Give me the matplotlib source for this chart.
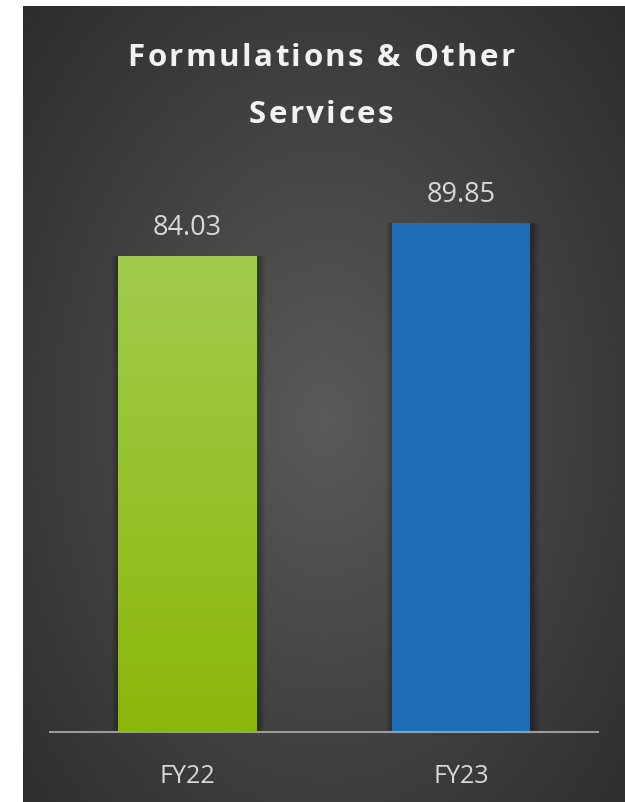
import numpy as np
import matplotlib
matplotlib.use('Agg')
import matplotlib.pyplot as plt
from matplotlib.patches import FancyBboxPatch

plt.rcParams['font.family'] = ['Open Sans', 'DejaVu Sans']

categories = ['FY22', 'FY23']
values = [84.03, 89.85]
value_labels = ['84.03', '89.85']

W, H = 625, 803
fig = plt.figure(figsize=(W / 100, H / 100), dpi=100, facecolor='white')

# dark panel with a soft radial glow in the middle
pw, ph = W - 23, H - 7
bg = fig.add_axes([23 / W, 0, pw / W, ph / H])
bg.axis('off')
ny, nx = 400, 300
yy, xx = np.mgrid[0:ny, 0:nx]
r = np.sqrt(((xx - 0.5 * nx) / (0.79 * nx)) ** 2 + ((yy - 0.52 * ny) / (0.86 * ny)) ** 2)
r = np.clip(r, 0, 1)
shade = 0.158 + 0.195 * (1 - r) ** 1.1
img = np.dstack([shade, shade, shade])
bg.imshow(img, aspect='auto', extent=(0, 1, 0, 1), interpolation='bilinear')
bg.set_xlim(0, 1)
bg.set_ylim(0, 1)

# plotting area: baseline at y=733px, 5.665 px per unit
ax = fig.add_axes([50 / W, 1 - 733 / H, 548 / W, 583 / H])
ax.patch.set_alpha(0)
ymax = 84.03 * 583 / 476
x = np.arange(len(categories))
bw = 0.505
bars = ax.bar(x, values, width=bw, color=['#94bf1c', '#1f6db5'], zorder=3)

# soft outer shadow around each bar
ppx = 2.0 / 548  # data units per pixel in x
ppy = ymax / 583
for b in bars:
    for k in range(1, 8):
        ax.add_patch(FancyBboxPatch((b.get_x() - k * ppx + 1.5 * ppx, -k * ppy),
                                    b.get_width() + 2 * k * ppx, b.get_height() + k * ppy,
                                    boxstyle='square,pad=0', fc='black', ec='none',
                                    alpha=0.045, zorder=2))

# green bar gets a vertical gradient, light on top
g = bars[0]
grad = np.linspace(0, 1, 256).reshape(-1, 1)
top = np.array([0.635, 0.800, 0.300])
bot = np.array([0.545, 0.718, 0.040])
cols = bot + (top - bot) * grad
gimg = ax.imshow(cols.reshape(256, 1, 3), aspect='auto', origin='lower',
                 extent=(g.get_x(), g.get_x() + g.get_width(), 0, g.get_height()),
                 zorder=3.5, interpolation='bilinear')
gimg.set_clip_path(g)
ax.set_xlim(-0.5, 1.5)
ax.set_ylim(0, ymax)

for xi, v, lab in zip(x, values, value_labels):
    ax.annotate(lab, (xi, v), xytext=(0, 15.8), textcoords='offset points',
                ha='center', va='baseline', fontsize=19.5, color='#d9d9d9')

for xi, lab in zip(x, categories):
    ax.annotate(lab, (xi, 0), xytext=(0, -36), textcoords='offset points',
                ha='center', va='baseline', fontsize=18, color='#d9d9d9')

for s in ['top', 'left', 'right']:
    ax.spines[s].set_visible(False)
ax.spines['bottom'].set_color('#9a9a9a')
ax.spines['bottom'].set_linewidth(1.5)
ax.spines['bottom'].set_zorder(4)
ax.set_xticks([])
ax.set_yticks([])

# title with extra letter spacing, drawn one glyph at a time
renderer = fig.canvas.get_renderer()
title_kw = dict(ha='left', va='baseline', fontsize=22.5, fontweight='bold', color='#f2f2f2')


def spaced_text(s, cx, y, spacing):
    def width(t):
        if not t:
            return 0.0
        tmp = fig.text(0, 0, t.replace(' ', '\u00a0'), **title_kw)
        w = tmp.get_window_extent(renderer).width
        tmp.remove()
        return w
    total = width(s) + spacing * (len(s) - 1)
    x0 = cx - total / 2
    for i, ch in enumerate(s):
        if ch == ' ':
            continue
        xp = x0 + width(s[:i].replace(' ', '\u00a0')) + i * spacing
        fig.text(xp / W, y, ch, **title_kw)


spaced_text('Formulations & Other', 321, 1 - 66 / H, 2.4)
spaced_text('Services', 321, 1 - 123 / H, 2.4)

fig.savefig('out.png', dpi=100, facecolor='white')
